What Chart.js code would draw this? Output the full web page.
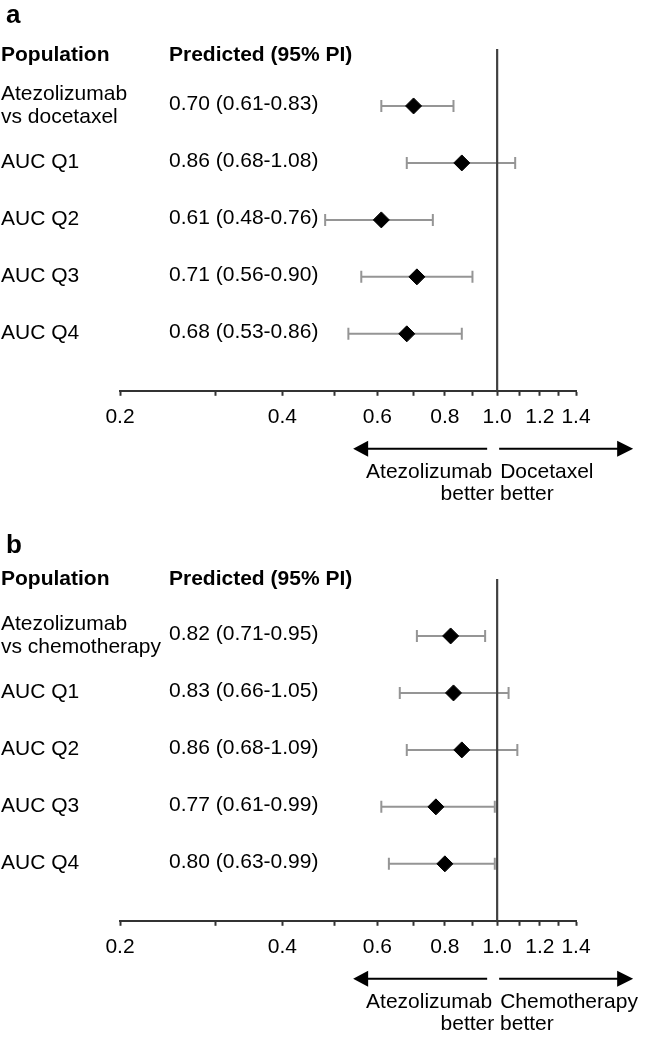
<!DOCTYPE html>
<html>
<head>
<meta charset="utf-8">
<script src="https://cdn.jsdelivr.net/npm/chart.js@4"></script>
<style>
  body { margin: 0; background: #fff; }
  .panel { position: absolute; left: 0; }
</style>
</head>
<body>
<div class="panel" style="top:0"><canvas id="panelA" width="646" height="511"></canvas></div>
<div class="panel" style="top:530px"><canvas id="panelB" width="646" height="511"></canvas></div>
<script>
const tickValues = [0.2, 0.3, 0.4, 0.5, 0.6, 0.7, 0.8, 0.9, 1.0, 1.1, 1.2, 1.3, 1.4];
const tickLabels = ['0.2', '0.4', '0.6', '0.8', '1.0', '1.2', '1.4'];

// panel a
const populationsA = [['Atezolizumab', 'vs docetaxel'], 'AUC Q1', 'AUC Q2', 'AUC Q3', 'AUC Q4'];
const estimatesA = [0.70, 0.86, 0.61, 0.71, 0.68];
const lowerA = [0.61, 0.68, 0.48, 0.56, 0.53];
const upperA = [0.83, 1.08, 0.76, 0.90, 0.86];

// panel b
const populationsB = [['Atezolizumab', 'vs chemotherapy'], 'AUC Q1', 'AUC Q2', 'AUC Q3', 'AUC Q4'];
const estimatesB = [0.82, 0.83, 0.86, 0.77, 0.80];
const lowerB = [0.71, 0.66, 0.68, 0.61, 0.63];
const upperB = [0.95, 1.05, 1.09, 0.99, 0.99];

const FONT = "'Liberation Sans', Arial, sans-serif";

const forestText = {
  id: 'forestText',
  afterDraw(chart, args, opts) {
    const ctx = chart.ctx;
    const x = chart.scales.x;
    const y = chart.scales.y;
    const area = chart.chartArea;
    ctx.save();
    ctx.fillStyle = '#000';

    // panel letter
    ctx.font = 'bold 26px ' + FONT;
    ctx.textAlign = 'left';
    ctx.textBaseline = 'alphabetic';
    ctx.fillText(opts.letter, 6, area.top - 26);

    // headers
    ctx.font = 'bold 21px ' + FONT;
    ctx.textBaseline = 'middle';
    ctx.fillText('Population', 1, area.top + opts.headerOffset);
    ctx.fillText('Predicted (95% PI)', 169, area.top + opts.headerOffset);

    // rows
    ctx.font = '21px ' + FONT;
    opts.populations.forEach((p, i) => {
      const py = y.getPixelForValue(i);
      if (Array.isArray(p)) {
        ctx.fillText(p[0], 1, py - 11.5);
        ctx.fillText(p[1], 1, py + 11.5);
      } else {
        ctx.fillText(p, 1, py - 1);
      }
      const txt = opts.estimates[i].toFixed(2) + ' (' + opts.lower[i].toFixed(2) + '-' + opts.upper[i].toFixed(2) + ')';
      ctx.fillText(txt, 169, py - 1.5);
    });

    // arrows
    const px1 = x.getPixelForValue(1);
    const ay = area.bottom + 58;
    ctx.strokeStyle = '#000';
    ctx.lineWidth = 2;
    ctx.beginPath();
    ctx.moveTo(px1 - 130, ay);
    ctx.lineTo(px1 - 10, ay);
    ctx.moveTo(px1 + 2, ay);
    ctx.lineTo(px1 + 121, ay);
    ctx.stroke();
    ctx.beginPath();
    ctx.moveTo(px1 - 144, ay);
    ctx.lineTo(px1 - 129, ay - 8);
    ctx.lineTo(px1 - 129, ay + 8);
    ctx.closePath();
    ctx.moveTo(px1 + 136, ay);
    ctx.lineTo(px1 + 120, ay - 8);
    ctx.lineTo(px1 + 120, ay + 8);
    ctx.closePath();
    ctx.fill();

    // arrow captions
    ctx.textBaseline = 'middle';
    ctx.textAlign = 'right';
    ctx.fillText('Atezolizumab', px1 - 5, area.bottom + 81);
    ctx.textAlign = 'left';
    ctx.fillText(opts.comparator, px1 + 3, area.bottom + 81);
    ctx.textAlign = 'center';
    ctx.fillText('better better', px1, area.bottom + 103);
    ctx.restore();
  }
};

function makePanel(canvasId, letter, populations, estimates, lower, upper, comparator, headerOffset) {
  const ctx = document.getElementById(canvasId).getContext('2d');

  const datasets = [];
  datasets.push({
    data: estimates.map((v, i) => ({ x: v, y: i })),
    showLine: false,
    pointStyle: 'rectRot',
    pointRadius: 8,
    pointBackgroundColor: '#000',
    pointBorderColor: '#000',
    pointBorderWidth: 1,
    order: 0
  });
  datasets.push({
    data: [{ x: 1, y: -1 }, { x: 1, y: 5 }],
    borderColor: '#404040',
    borderWidth: 2.2,
    pointRadius: 0,
    order: 1
  });
  estimates.forEach((v, i) => {
    datasets.push({
      data: [{ x: lower[i], y: i }, { x: upper[i], y: i }],
      borderColor: '#959595',
      borderWidth: 2,
      pointStyle: 'line',
      rotation: 90,
      pointRadius: 6,
      pointBorderColor: '#959595',
      pointBorderWidth: 2,
      order: 2
    });
  });

  return new Chart(ctx, {
    type: 'line',
    data: { datasets: datasets },
    options: {
      responsive: false,
      animation: false,
      layout: { padding: { left: 120, right: 70, top: 49, bottom: 72 } },
      plugins: {
        legend: { display: false },
        tooltip: { enabled: false },
        forestText: {
          letter: letter,
          populations: populations,
          estimates: estimates,
          lower: lower,
          upper: upper,
          comparator: comparator,
          headerOffset: headerOffset
        }
      },
      scales: {
        x: {
          type: 'logarithmic',
          min: 0.2,
          max: 1.4,
          afterBuildTicks: (scale) => {
            scale.ticks = tickValues.map(v => ({ value: v }));
          },
          border: { display: true, color: '#333', width: 2 },
          grid: {
            drawOnChartArea: false,
            drawTicks: true,
            tickLength: 5,
            tickWidth: 2,
            tickColor: '#333'
          },
          ticks: {
            autoSkip: false,
            maxRotation: 0,
            padding: 9,
            color: '#000',
            font: { family: FONT, size: 21 },
            callback: (value) => {
              const s = Number(value).toFixed(1);
              return tickLabels.includes(s) ? s : '';
            }
          }
        },
        y: {
          type: 'linear',
          min: -1,
          max: 5,
          reverse: true,
          display: false
        }
      }
    },
    plugins: [forestText]
  });
}

makePanel('panelA', 'a', populationsA, estimatesA, lowerA, upperA, 'Docetaxel', 6);
makePanel('panelB', 'b', populationsB, estimatesB, lowerB, upperB, 'Chemotherapy', 0);
</script>
</body>
</html>
